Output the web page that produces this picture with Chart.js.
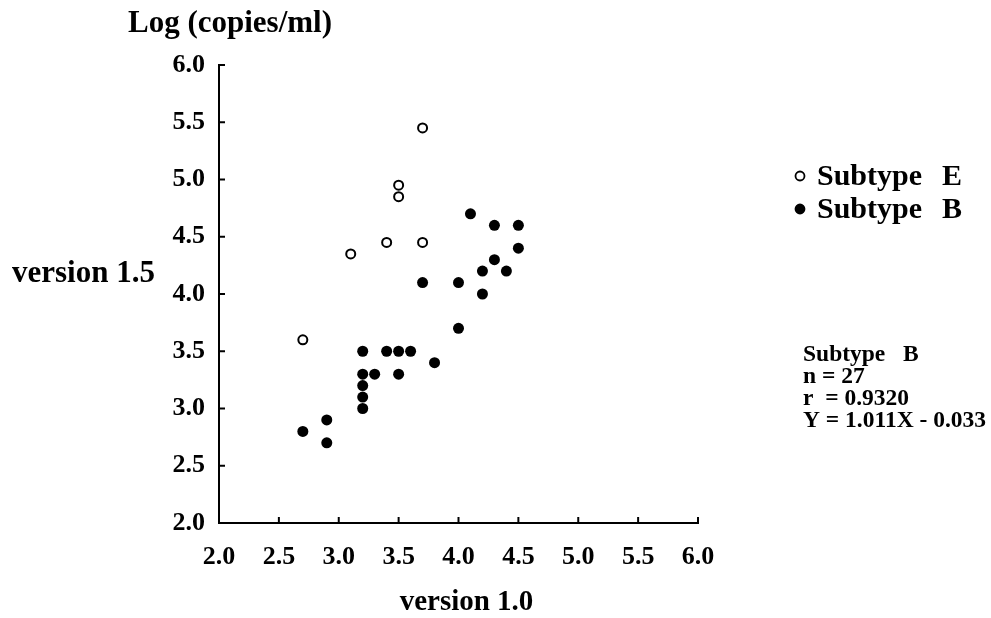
<!DOCTYPE html>
<html>
<head>
<meta charset="utf-8">
<script src="https://cdn.jsdelivr.net/npm/chart.js@4.4.1/dist/chart.umd.min.js"></script>
<style>
html,body{margin:0;padding:0;background:#fff;}
</style>
</head>
<body>
<canvas id="chart" width="991" height="618"></canvas>
<script>
/* ==========================
   DATA
========================== */
// Subtype E (open circles)
const subtypeE_x = [3.7, 3.5, 3.5, 3.4, 3.7, 3.1, 2.7];
const subtypeE_y = [5.45, 4.95, 4.85, 4.45, 4.45, 4.35, 3.6];

// Subtype B (filled circles)
const subtypeB_x = [4.1, 4.3, 4.5, 4.5, 4.3, 4.2, 4.4, 3.7, 4.0, 4.2, 4.0,
                    3.2, 3.4, 3.5, 3.6, 3.8, 3.2, 3.3, 3.5, 3.2, 3.2, 3.2,
                    2.9, 2.7, 2.9];
const subtypeB_y = [4.7, 4.6, 4.6, 4.4, 4.3, 4.2, 4.2, 4.1, 4.1, 4.0, 3.7,
                    3.5, 3.5, 3.5, 3.5, 3.4, 3.3, 3.3, 3.3, 3.2, 3.1, 3.0,
                    2.9, 2.8, 2.7];

const axisTicks = [2.0, 2.5, 3.0, 3.5, 4.0, 4.5, 5.0, 5.5, 6.0];

const yTitle = "version 1.5";
const xTitle = "version 1.0";
const topTitle = "Log (copies/ml)";
const legendLabels = ["Subtype", "Subtype"];
const legendKeys = ["E", "B"];
const statsLines = ["Subtype   B", "n = 27", "r  = 0.9320", "Y = 1.011X - 0.033"];

const toPoints = (xs, ys) => xs.map((x, i) => ({x, y: ys[i]}));

const SERIF = "'Liberation Serif', 'Times New Roman', serif";

/* ==========================
   EXTRA DRAWING
========================== */
const decor = {
    id: "decor",
    afterDraw(chart){
        const {ctx, chartArea: a, scales: {x, y}} = chart;
        ctx.save();
        ctx.strokeStyle = "#000";
        ctx.lineWidth = 2;
        // inward tick marks
        axisTicks.forEach(v => {
            const px = x.getPixelForValue(v);
            ctx.beginPath(); ctx.moveTo(px, a.bottom); ctx.lineTo(px, a.bottom - 6); ctx.stroke();
            const py = y.getPixelForValue(v);
            ctx.beginPath(); ctx.moveTo(a.left, py); ctx.lineTo(a.left + 6, py); ctx.stroke();
        });

        ctx.fillStyle = "#000";
        ctx.textBaseline = "alphabetic";
        ctx.font = `bold 31px ${SERIF}`;
        ctx.textAlign = "left";
        ctx.fillText(topTitle, 128, 32);
        ctx.fillText(yTitle, 12, 282);
        ctx.font = `bold 29px ${SERIF}`;
        ctx.textAlign = "center";
        ctx.fillText(xTitle, (a.left + a.right) / 2 + 8, 610);

        // legend
        ctx.textAlign = "left";
        ctx.font = `bold 30px ${SERIF}`;
        const baselines = [185, 218];
        chart.data.datasets.forEach((ds, i) => {
            const by = baselines[i];
            ctx.beginPath();
            ctx.arc(800, by - 9, 4.5, 0, Math.PI * 2);
            ctx.fillStyle = ds.pointBackgroundColor;
            ctx.fill();
            ctx.lineWidth = 1.8;
            ctx.strokeStyle = "#000";
            ctx.stroke();
            ctx.fillStyle = "#000";
            ctx.fillText(legendLabels[i], 817, by);
            ctx.fillText(legendKeys[i], 942, by);
        });

        // stats block
        ctx.font = `bold 23.5px ${SERIF}`;
        statsLines.forEach((t, i) => ctx.fillText(t, 803, 361 + i * 22));
        ctx.restore();
    }
};

/* ==========================
   CHART
========================== */
new Chart(document.getElementById("chart"), {
    type: "scatter",
    data: {
        datasets: [
            {
                label: "Subtype E",
                data: toPoints(subtypeE_x, subtypeE_y),
                pointRadius: 4.5,
                pointBorderWidth: 2,
                pointBorderColor: "#000",
                pointBackgroundColor: "#fff"
            },
            {
                label: "Subtype B",
                data: toPoints(subtypeB_x, subtypeB_y),
                pointRadius: 5.5,
                pointBorderWidth: 0,
                pointBorderColor: "#000",
                pointBackgroundColor: "#000"
            }
        ]
    },
    options: {
        responsive: false,
        animation: false,
        clip: false,
        layout: {padding: {left: 0, top: 65, right: 293, bottom: 0}},
        plugins: {legend: {display: false}, tooltip: {enabled: false}},
        scales: {
            x: {
                type: "linear",
                min: 2, max: 6,
                afterBuildTicks: s => { s.ticks = axisTicks.map(v => ({value: v})); },
                afterFit: s => { s.height = 95; },
                grid: {display: false, drawTicks: false},
                border: {display: true, color: "#000", width: 2},
                ticks: {
                    color: "#000",
                    padding: 19,
                    font: {family: SERIF, size: 26, weight: "bold"},
                    callback: v => Number(v).toFixed(1)
                }
            },
            y: {
                type: "linear",
                min: 2, max: 6,
                afterBuildTicks: s => { s.ticks = axisTicks.map(v => ({value: v})); },
                afterFit: s => { s.width = 219; },
                grid: {display: false, drawTicks: false},
                border: {display: true, color: "#000", width: 2},
                ticks: {
                    color: "#000",
                    padding: 14,
                    font: {family: SERIF, size: 26, weight: "bold"},
                    callback: v => Number(v).toFixed(1)
                }
            }
        }
    },
    plugins: [decor]
});
</script>
</body>
</html>
